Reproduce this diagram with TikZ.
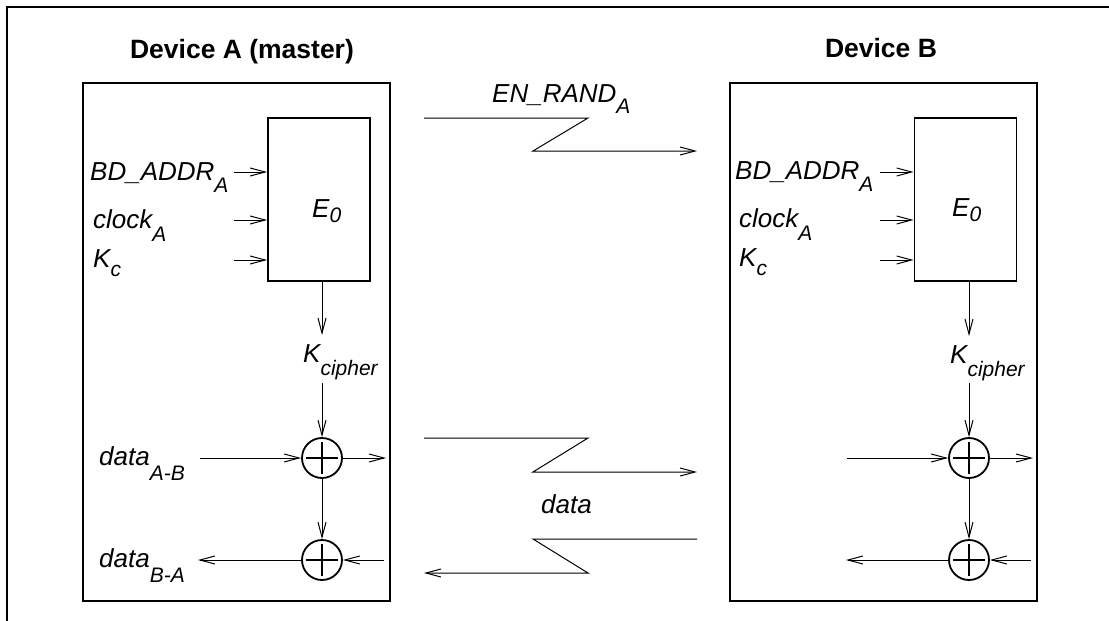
\documentclass[tikz,border=0pt]{standalone}
\usepackage{fontspec}
\setmainfont{Liberation Sans}
\usetikzlibrary{arrows.meta}
\newcommand\lsub[2]{\raisebox{-#1pt}{\fontsize{21}{21}\selectfont\itshape #2}}
\begin{document}
\begin{tikzpicture}[x=1pt,y=-1pt,
  frame/.style={line width=2.6pt},
  devbox/.style={draw, line width=1.8pt, inner sep=0pt},
  thinar/.style={line width=1pt, -{Straight Barb[length=15pt,width=8pt,line width=1pt]}},
  lbl/.style={font=\fontsize{26}{26}\selectfont\itshape, inner sep=0pt, anchor=base west},
  title/.style={font=\fontsize{26.5}{26.5}\selectfont\bfseries, inner sep=0pt, anchor=base},
  xor/.style={circle, draw, line width=1.8pt, minimum size=40pt, inner sep=0pt,
    path picture={
      \draw[line width=1.8pt] ([xshift=-16pt]path picture bounding box.center) -- ([xshift=16pt]path picture bounding box.center);
      \draw[line width=1.8pt] ([yshift=-16pt]path picture bounding box.center) -- ([yshift=16pt]path picture bounding box.center);
    }}
]
\useasboundingbox (0,0) rectangle (1109,621);
% outer frame (top and left edges visible)
\coordinate (fTL) at (7,7);
\coordinate (fTR) at (1112,7);
\coordinate (fBL) at (7,624);
\draw[frame] (fTR) -- (fTL) -- (fBL);

% titles
\node[title] (tA) at (242,58) {Device A (master)};
\node[title] (tB) at (881,57) {Device B};

% device boxes
\node[devbox, minimum width=307pt, minimum height=518pt] (devA) at (236.5,342) {};
\node[devbox, minimum width=307pt, minimum height=518pt] (devB) at (883.5,342) {};

% E0 boxes
\node[devbox, minimum width=102pt, minimum height=163pt] (e0a) at (319,199.5) {};
\node[devbox, minimum width=102pt, minimum height=163pt] (e0b) at (965.5,199.5) {};
\node[lbl] (e0lA) at (312,217) {E\lsub{5}{0}};
\node[lbl] (e0lB) at (952,216) {E\lsub{5}{0}};

% input labels A
\node[lbl] (bdA) at (90,180) {BD\_ADDR\lsub{12}{A}};
\node[lbl] (ckA) at (93,228) {clock\lsub{13}{A}};
\node[lbl] (kcA) at (93,267) {K\lsub{9}{c}};
% input labels B
\node[lbl] (bdB) at (735,179) {BD\_ADDR\lsub{12}{A}};
\node[lbl] (ckB) at (739,227) {clock\lsub{13}{A}};
\node[lbl] (kcB) at (739,266) {K\lsub{9}{c}};

% input arrows
\coordinate (iA1) at (234,172); \coordinate (iA2) at (234,220); \coordinate (iA3) at (234,260);
\coordinate (iB1) at (880,172); \coordinate (iB2) at (880,220); \coordinate (iB3) at (880,260);
\draw[thinar] (iA1) -- (iA1 -| e0a.west);
\draw[thinar] (iA2) -- (iA2 -| e0a.west);
\draw[thinar] (iA3) -- (iA3 -| e0a.west);
\draw[thinar] (iB1) -- (iB1 -| e0b.west);
\draw[thinar] (iB2) -- (iB2 -| e0b.west);
\draw[thinar] (iB3) -- (iB3 -| e0b.west);

% K_cipher
\node[lbl] (kciA) at (303,362) {K\lsub{13}{cipher}};
\node[lbl] (kciB) at (950,363) {K\lsub{13}{cipher}};
\coordinate (kaT) at (322,335); \coordinate (kaB) at (322,383);
\coordinate (kbT) at (969,336); \coordinate (kbB) at (969,383);
\draw[thinar] (e0a.south -| kaT) -- (kaT);
\draw[thinar] (e0b.south -| kbT) -- (kbT);

% XOR nodes
\node[xor] (x1a) at (322,458) {};
\node[xor] (x2a) at (322,560) {};
\node[xor] (x1b) at (969,458) {};
\node[xor] (x2b) at (969,560) {};
\draw[thinar] (kaB) -- (x1a.north);
\draw[thinar] (x1a.south) -- (x2a.north);
\draw[thinar] (kbB) -- (x1b.north);
\draw[thinar] (x1b.south) -- (x2b.north);

% data labels A
\node[lbl] (dabA) at (99,465) {data\lsub{15}{A-B}};
\node[lbl] (dbaA) at (99,567) {data\lsub{15}{B-A}};

% data arrows A
\coordinate (dinA) at (200,458); \coordinate (doutA) at (386,458);
\coordinate (rinA) at (384,560); \coordinate (routA) at (198,560);
\draw[thinar] (dinA) -- (x1a.west);
\draw[thinar] (x1a.east) -- (doutA);
\draw[thinar] (rinA) -- (x2a.east);
\draw[thinar] (x2a.west) -- (routA);
% data arrows B
\coordinate (dinB) at (847,458); \coordinate (doutB) at (1033,458);
\coordinate (rinB) at (1031,560); \coordinate (routB) at (846,560);
\draw[thinar] (dinB) -- (x1b.west);
\draw[thinar] (x1b.east) -- (doutB);
\draw[thinar] (rinB) -- (x2b.east);
\draw[thinar] (x2b.west) -- (routB);

% wireless links
\node[lbl] (enr) at (492,102) {EN\_RAND\lsub{11}{A}};
\node[lbl] (dlbl) at (541,513) {data};
\coordinate (z1a) at (424,118); \coordinate (z1b) at (588,118);
\coordinate (z1c) at (533,151); \coordinate (z1d) at (697,151);
\draw[thinar] (z1a) -- (z1b) -- (z1c) -- (z1d);
\coordinate (z2a) at (424,438); \coordinate (z2b) at (588,438);
\coordinate (z2c) at (533,472); \coordinate (z2d) at (697,472);
\draw[thinar] (z2a) -- (z2b) -- (z2c) -- (z2d);
\coordinate (z3a) at (697,539); \coordinate (z3b) at (533,539);
\coordinate (z3c) at (588,573); \coordinate (z3d) at (424,573);
\draw[thinar] (z3a) -- (z3b) -- (z3c) -- (z3d);
\end{tikzpicture}
\end{document}
